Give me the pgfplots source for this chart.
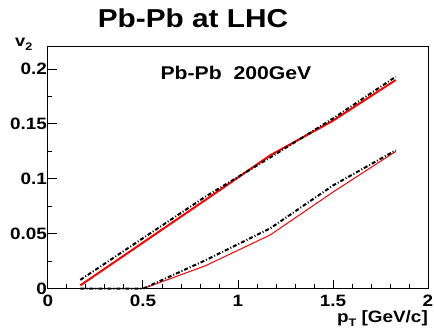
\documentclass[border=0pt]{standalone}
\usepackage{fontspec}
\setmainfont{Liberation Sans}[FakeStretch=1.15]
\usepackage{pgfplots}
\pgfplotsset{compat=1.18}
\begin{document}
\begin{tikzpicture}
\begin{axis}[name=ax, at={(0bp,0bp)}, anchor=south west,
 width=380bp, height=242.7bp, scale only axis,
 xmin=0, xmax=2, ymin=0, ymax=0.221,
 axis line style={line width=1bp},
 xtick={0,0.5,1,1.5,2}, xticklabels={0,0.5,1,1.5,2},
 ytick={0,0.05,0.1,0.15,0.2}, yticklabels={0,0.05,0.1,0.15,0.2},
 minor x tick num=4, minor y tick num=1,
 xtick pos=bottom, ytick pos=left, tick align=inside,
 major tick length=9bp, minor tick length=4.5bp,
 tick style={line width=1bp,black},
 ticklabel style={font=\fontsize{16.5}{18}\selectfont\bfseries},
 yticklabel style={xshift=2.5bp},
 xticklabel style={anchor=base, yshift=-17.5bp},
 clip=false,
]
% upper curves
\addplot[red, line width=2bp] coordinates {(0.17,0.003) (0.5,0.042) (0.83,0.081) (1.17,0.1215) (1.5,0.153) (1.83,0.19)};
\addplot[black, line width=2bp, dash pattern=on 4bp off 2bp on 1bp off 2bp] coordinates {(0.17,0.008) (0.5,0.046) (0.83,0.084) (1.17,0.1195) (1.5,0.155) (1.83,0.193)};
% lower curves
\addplot[red, line width=1bp] coordinates {(0.5,0) (0.83,0.021) (1.17,0.049) (1.5,0.088) (1.83,0.125)};
\addplot[black, line width=2bp, dash pattern=on 4bp off 2bp on 1bp off 2bp] coordinates {(0.17,0) (0.5,0) (0.83,0.026) (1.17,0.055) (1.5,0.094) (1.83,0.126)};
\node[anchor=base, font=\fontsize{26}{28}\selectfont\bfseries, inner sep=0pt] at (rel axis cs:0.3816,1.0754) {Pb-Pb at LHC};
\node[anchor=base, font=\fontsize{18.5}{20}\selectfont\bfseries, inner sep=0pt] at (rel axis cs:0.4947,0.8628) {Pb-Pb\ \ 200GeV};
\node[anchor=base west, font=\fontsize{16}{18}\selectfont\bfseries, inner sep=0pt] at (rel axis cs:-0.0868,1.0) {v\raisebox{-4.5bp}{\fontsize{11}{11}\selectfont 2}};
\node[anchor=base east, font=\fontsize{16.5}{18}\selectfont\bfseries, inner sep=0pt] at (rel axis cs:1.0,-0.138) {p\raisebox{-4.5bp}{\fontsize{11}{11}\selectfont T} [GeV/c]};
\end{axis}
\pgfresetboundingbox
\path (-48bp,-45.3bp) rectangle (386bp,288.7bp);
\end{tikzpicture}
\end{document}
